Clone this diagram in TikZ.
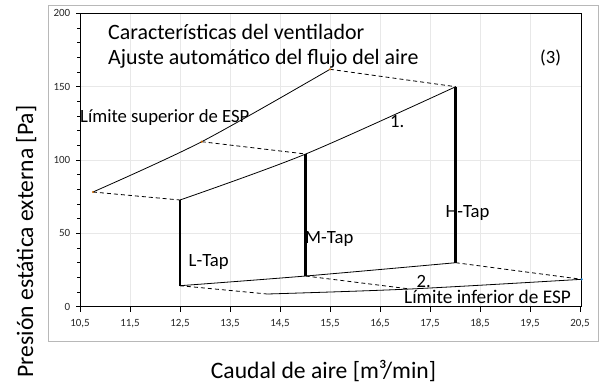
\documentclass[tikz,border=0pt]{standalone}
\usepackage{fontspec}
\setmainfont{Carlito}
\begin{document}
\begin{tikzpicture}[x=1pt,y=-1pt,
  frameline/.style={draw=black!28,line width=0.9pt},
  gridline/.style={draw=black!9,line width=0.6pt},
  axisline/.style={draw=black,line width=0.9pt},
  tickline/.style={draw=black,line width=0.7pt},
  curveline/.style={draw=black,line width=0.8pt},
  dashline/.style={draw=black,line width=0.8pt,dash pattern=on 4pt off 3pt},
  tapline/.style={draw=black,line width=2.6pt},
  ticklabel/.style={font=\fontsize{11}{12}\selectfont,text=black!85,inner sep=0pt},
  titletext/.style={font=\fontsize{21.9}{26}\selectfont,anchor=base west,inner sep=0pt},
  labeltext/.style={font=\fontsize{18.7}{22}\selectfont,anchor=base west,inner sep=0pt},
  axistext/.style={font=\fontsize{23.6}{27}\selectfont,anchor=base,inner sep=0pt},
  ptdot/.style={circle,inner sep=0pt,minimum size=2.4pt}
]
\useasboundingbox (0,0) rectangle (604,381);
% outer chart frame
\draw[frameline] (48,5.5) rectangle (598,341.5);
% grid
\foreach \i in {1,...,9} {\draw[gridline] ({80+50*\i},13.3) -- ({80+50*\i},306.7);}
\foreach \j in {50,100,150} {\draw[gridline] (80,{306.7-1.4667*\j}) -- (581.7,{306.7-1.4667*\j});}
% plot frame
\coordinate (BL) at (80,306.7);
\coordinate (TR) at (581.7,13.3);
\draw[axisline] (BL) rectangle (TR);
% y ticks
\foreach \j in {0,10,...,200} {\draw[tickline] (80,{306.7-1.4667*\j}) -- (77,{306.7-1.4667*\j});}
\foreach \j in {0,50,...,200} {\draw[tickline] (80,{306.7-1.4667*\j}) -- (75.5,{306.7-1.4667*\j});
  \node[ticklabel,anchor=east] at (70.5,{306.7-1.4667*\j}) {\j};}
% x ticks
\foreach \i/\t in {0/10,1/11,2/12,3/13,4/14,5/15,6/16,7/17,8/18,9/19,10/20} {
  \draw[tickline] ({80+50*\i},306.7) -- ({80+50*\i},311.5);
  \node[ticklabel,anchor=base] at ({80+50*\i},326) {\t,5};}
% data points
\coordinate (U1) at (93,192);
\coordinate (U2) at (201.7,141.7);
\coordinate (U3) at (330,69.3);
\coordinate (M1) at (180,200);
\coordinate (M2) at (305.7,154);
\coordinate (M3) at (455.7,86.7);
\coordinate (B1) at (180,285.7);
\coordinate (B2) at (305.7,276);
\coordinate (B3) at (455.7,262.7);
\coordinate (L1) at (267.3,294);
\coordinate (L2) at (410,289);
\coordinate (L3) at (581.7,279.3);
% curves
\draw[curveline] plot[smooth] coordinates {(U1) (U2) (U3)};
\draw[curveline] plot[smooth] coordinates {(M1) (M2) (M3)};
\draw[curveline] plot[smooth] coordinates {(B1) (B2) (B3)};
\draw[curveline] plot[smooth] coordinates {(L1) (L2) (L3)};
% dashed links
\draw[dashline] (U1) -- (M1);
\draw[dashline] (U2) -- (M2);
\draw[dashline] (U3) -- (M3);
\draw[dashline] (B1) -- (L1);
\draw[dashline] (B2) -- (L2);
\draw[dashline] (B3) -- (L3);
% taps
\draw[tapline] (M1) -- (B1);
\draw[tapline] (M2) -- (B2);
\draw[tapline] (M3) -- (B3);
% point markers
\node[ptdot,fill=orange!80!black] (pU1) at (U1) {};
\node[ptdot,fill=orange!80!black] (pU2) at (U2) {};
\node[ptdot,fill=orange!80!black] (pU3) at (U3) {};
\node[ptdot,fill=cyan!60!blue] (pL3) at (L3) {};
% texts
\node[titletext] (t1) at (108,39) {Características del ventilador};
\node[titletext] (t2) at (108,64) {Ajuste automático del flujo del aire};
\node[labeltext] (t3) at (540,63.5) {(3)};
\node[labeltext] (lsup) at (80,122) {Límite superior de ESP};
\node[labeltext] (one) at (390,127) {1.};
\node[labeltext] (ltap) at (188.5,266) {L-Tap};
\node[labeltext] (mtap) at (305,243) {M-Tap};
\node[labeltext] (htap) at (445.5,217.5) {H-Tap};
\node[labeltext] (two) at (416.5,287) {2.};
\node[labeltext,font=\fontsize{19.3}{22}\selectfont] (linf) at (404,303) {Límite inferior de ESP};
\node[axistext,rotate=90] (ylab) at (33,241.5) {Presión estática externa [Pa]};
\node[axistext] (xlab) at (323.5,378.5) {Caudal de aire [m³/min]};
\end{tikzpicture}
\end{document}
